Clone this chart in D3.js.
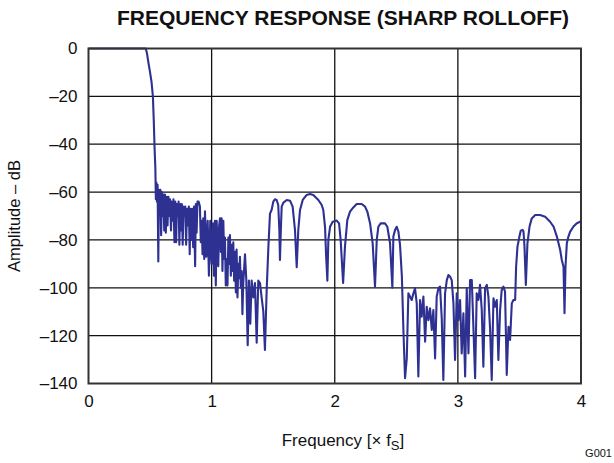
<!DOCTYPE html>
<html><head><meta charset="utf-8">
<script src="https://cdn.jsdelivr.net/npm/d3@7"></script>
<style>
body{margin:0;background:#fff;}
svg{display:block;font-family:"Liberation Sans",Arial,Helvetica,sans-serif;}
</style></head>
<body>
<svg id="chart" width="614" height="463"></svg>
<script>
const title = "FREQUENCY RESPONSE (SHARP ROLLOFF)";
const xTicks = [0, 1, 2, 3, 4];
const xTickLabels = ["0", "1", "2", "3", "4"];
const yTicks = [0, -20, -40, -60, -80, -100, -120, -140];
const yTickLabels = ["0", "–20", "–40", "–60", "–80", "–100", "–120", "–140"];

const freq = [
0,0.465,0.475,0.487,0.500,0.512,0.523,0.530,0.537,0.543,
0.547,0.551,0.556,0.561,0.567,0.572,0.578,0.584,0.590,0.596,0.602,0.608,0.615,0.621,0.628,0.635,0.642,0.649,0.656,0.662,
0.670,0.676,0.684,0.690,0.698,0.705,0.712,0.718,0.725,0.732,0.738,0.745,0.752,0.758,0.765,0.772,0.780,0.786,0.793,0.800,
0.808,0.815,0.822,0.828,0.835,0.842,0.850,0.857,0.866,0.872,0.878,0.885,0.895,0.905,0.912,0.919,0.926,0.932,0.940,0.946,
0.957,0.968,0.978,0.989,1.000,1.011,1.019,1.027,1.034,1.041,1.054,1.061,1.068,1.075,1.081,1.088,1.095,1.102,1.108,1.115,
1.122,1.129,1.136,1.142,1.149,1.156,1.163,1.170,1.176,1.183,1.190,1.197,1.203,1.210,1.217,1.224,1.230,1.237,1.244,1.250,
1.257,1.264,1.271,1.282,1.293,1.303,1.314,1.325,1.339,1.352,1.366,1.379,1.393,1.406,1.420,1.433,1.447,1.461,1.474,
1.487,1.501,1.514,1.528,1.541,1.550,1.555,1.563,1.569,1.583,1.610,1.637,1.658,1.677,1.691,1.704,1.718,1.740,1.772,1.799,
1.826,1.867,1.894,1.907,1.921,1.929,1.940,1.948,1.962,1.983,2.016,2.035,2.048,2.068,2.083,2.102,2.124,2.151,2.178,2.219,
2.246,2.265,2.287,2.308,2.327,2.341,2.354,2.373,2.408,2.427,2.449,2.468,2.476,2.490,2.503,2.517,2.530,2.545,2.558,
2.571,2.585,2.598,2.612,2.625,2.639,2.652,2.666,2.679,2.693,2.706,2.720,2.734,2.747,2.761,2.774,2.788,2.801,2.815,2.828,
2.842,2.855,2.869,2.882,2.896,2.910,2.923,2.937,2.950,2.964,2.977,2.991,3.004,3.018,3.031,3.045,3.059,3.072,3.086,3.099,
3.113,3.126,3.140,3.153,3.167,3.180,3.194,3.207,3.221,3.235,3.248,3.262,3.275,3.289,3.302,3.316,3.329,3.343,3.356,3.370,
3.383,3.397,3.411,3.424,3.438,3.451,3.465,3.473,3.484,3.500,3.511,3.525,3.533,3.541,3.552,3.565,3.582,3.600,3.628,3.668,
3.709,3.749,3.777,3.804,3.831,3.844,3.858,3.866,3.874,3.885,3.898,3.912,3.939,3.966,3.993,4.000
];
const ampDb = [
0,0,-2,-6,-10,-14,-20,-30,-42,-50,
-63,-56,-64,-57,-89,-59,-66,-59,-78,-60,-70,-61,-76,-61,-77,-62,-74,-62,-70,-63,
-76,-64,-72,-63,-81,-64,-81,-65,-70,-64,-82,-65,-76,-65,-82,-66,-70,-66,-82,-67,
-74,-66,-86,-67,-80,-67,-83,-66,-91,-65,-77,-64,-64,-66,-81,-72,-86,-71,-88,-68,
-87,-72,-95,-72,-90,-73,-95,-72,-99,-72,-91,-74,-71,-85,-71,-93,-72,-88,-79,-99,
-88,-99,-79,-90,-78,-95,-82,-93,-81,-97,-85,-102,-84,-104,-90,-96,-87,-100,-93,-111,
-98,-92,-86,-97,-124,-97,-115,-97,-104,-98,-123,-97,-98,-104,-110,-126,-101,-83,-69,
-67.5,-64,-63,-63.3,-65.4,-75.8,-88.4,-74.5,-66.1,-64.4,-63.3,-63.6,-66.1,-75.8,-91.4,-75.8,-67.5,-63.3,-61.2,-60.8,
-61.2,-63.3,-65.4,-67.5,-74.5,-85.6,-97,-80,-74.5,-72.4,-71.9,-73.1,-80,-98,-82.8,-71.7,-68.2,-66.4,-65,-65,
-66.1,-68.2,-73.1,-81.4,-99.5,-80,-74.5,-73.1,-73.1,-74.5,-81.4,-100,-78.6,-75.8,-74.5,-76.5,-82,-95,-118.3,
-137.8,-129.5,-102.3,-103.7,-105.1,-102.3,-100.2,-106.5,-137.1,-105.1,-112.1,-103.7,-122.5,-107.9,-113.5,-108.6,-117.6,-109.3,-129.5,-103.7,
-100.2,-99.5,-112.8,-138.5,-102.3,-96.8,-94.7,-95.4,-96.8,-106.5,-130.2,-102.3,-113.5,-105.1,-127.4,-110.7,-137.1,-100.2,-127.4,-96.8,
-96.8,-116.3,-137.8,-102.3,-105.1,-98.8,-109.3,-133,-100.2,-98.8,-103.7,-117.6,-138.5,-104.4,-107.9,-105.1,-130.2,-109.3,-100.9,-99.5,
-101.6,-136.4,-116.3,-121.8,-106.5,-105.1,-105.1,-91.2,-82.8,-78.6,-76.1,-75.8,-76.5,-82.8,-98.8,-81.4,-74.4,-71,-69.6,-69.6,
-70.3,-72.4,-74.4,-78.6,-84.2,-88.4,-91.2,-110.6,-91.2,-81.4,-78.6,-76.5,-74.4,-73.0,-72.4,-72.0
];

const data = freq.map((f, i) => ({f: f, a: ampDb[i]}));

const pLeft = 88.5, pRight = 581, pTop = 48.5, pBottom = 383.5;
const svg = d3.select("#chart");
const x = d3.scaleLinear().domain([0, 4]).range([pLeft, pRight]);
const y = d3.scaleLinear().domain([-140, 0]).range([pBottom, pTop]);

// grid
const g = svg.append("g");
g.selectAll("line.v").data(xTicks.slice(1, -1)).enter().append("line")
  .attr("x1", d => x(d)).attr("x2", d => x(d)).attr("y1", pTop).attr("y2", pBottom)
  .attr("stroke", "#111").attr("stroke-width", 1.3);
g.selectAll("line.h").data(yTicks.slice(1, -1)).enter().append("line")
  .attr("y1", d => y(d)).attr("y2", d => y(d)).attr("x1", pLeft).attr("x2", pRight)
  .attr("stroke", "#111").attr("stroke-width", 1.3);

// curve
const line = d3.line().x(d => x(d.f)).y(d => y(d.a));
svg.append("path").datum(data).attr("d", line)
  .attr("fill", "none").attr("stroke", "#2e3192").attr("stroke-width", 2.1)
  .attr("stroke-linejoin", "round");

// frame
svg.append("rect").attr("x", pLeft).attr("y", pTop).attr("width", pRight - pLeft).attr("height", pBottom - pTop)
  .attr("fill", "none").attr("stroke", "#333").attr("stroke-width", 2);

// axes labels
const yAxis = d3.axisLeft(y).tickValues(yTicks).tickSize(0).tickPadding(11)
  .tickFormat(d => yTickLabels[yTicks.indexOf(d)]);
const ya = svg.append("g").attr("transform", `translate(${pLeft},0)`).call(yAxis);
ya.select(".domain").remove();
ya.selectAll("text").attr("font-size", 17).attr("fill", "#111").attr("font-family", "Liberation Sans, Arial, sans-serif");

const xAxis = d3.axisBottom(x).tickValues(xTicks).tickSize(0).tickPadding(11)
  .tickFormat(d => xTickLabels[xTicks.indexOf(d)]);
const xa = svg.append("g").attr("transform", `translate(0,${pBottom})`).call(xAxis);
xa.select(".domain").remove();
xa.selectAll("text").attr("font-size", 17).attr("fill", "#111").attr("font-family", "Liberation Sans, Arial, sans-serif");

// title
svg.append("text").attr("x", 343).attr("y", 25).attr("text-anchor", "middle")
  .attr("font-size", 21).attr("font-weight", "bold").attr("fill", "#111").text(title);

// x title
const xt = svg.append("text").attr("x", 343).attr("y", 446).attr("text-anchor", "middle")
  .attr("font-size", 17).attr("fill", "#111");
xt.append("tspan").text("Frequency [× f");
xt.append("tspan").attr("font-size", 13).attr("dy", 4).text("S");
xt.append("tspan").attr("dy", -4).text("]");

// y title
svg.append("text").attr("transform", `translate(20,${(pTop + pBottom) / 2}) rotate(-90)`)
  .attr("text-anchor", "middle").attr("font-size", 16.5).attr("fill", "#111").text("Amplitude – dB");

// figure id
svg.append("text").attr("x", 612).attr("y", 457).attr("text-anchor", "end")
  .attr("font-size", 11).attr("fill", "#111").text("G001");
</script>
</body></html>
